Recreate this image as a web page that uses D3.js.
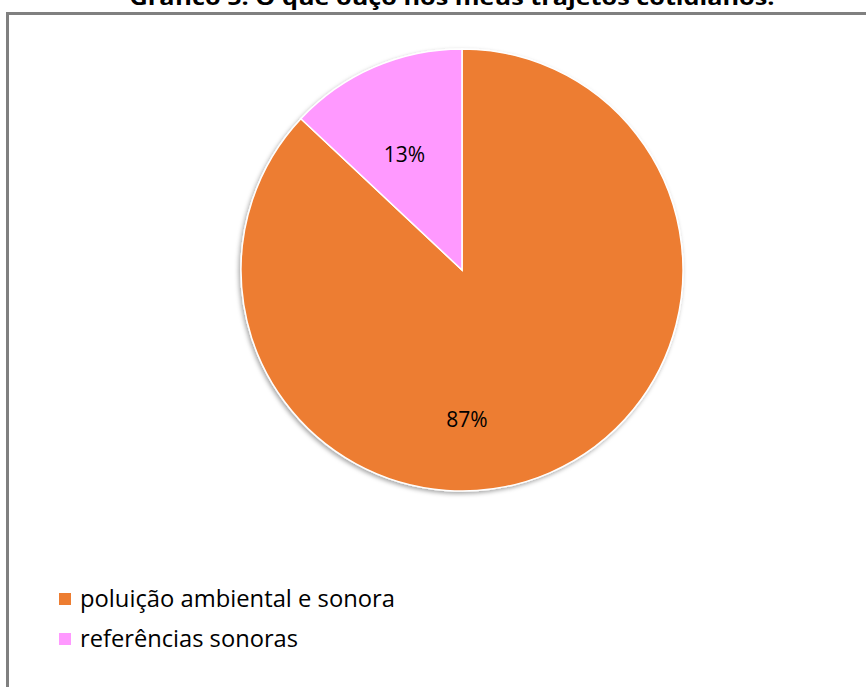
<!DOCTYPE html>
<html><head><meta charset="utf-8">
<script src="https://cdn.jsdelivr.net/npm/d3@7"></script>
<style>html,body{margin:0;padding:0;background:#fff;}svg{display:block;}</style>
</head><body>
<script>
const categories = ["poluição ambiental e sonora", "referências sonoras"];
const values = [87, 13];
const labels = ["87%", "13%"];
const colors = ["#ED7D31", "#FF99FF"];
const title = "Gráfico 5: O que ouço nos meus trajetos cotidianos.";

const W = 866, H = 687;
const svg = d3.select("body").append("svg").attr("width", W).attr("height", H);

const defs = svg.append("defs");
const f = defs.append("filter").attr("id", "sh").attr("x", "-20%").attr("y", "-20%").attr("width", "140%").attr("height", "140%");
f.append("feDropShadow").attr("dx", -1.5).attr("dy", 2).attr("stdDeviation", 2).attr("flood-color", "#000").attr("flood-opacity", 0.35);

// frame
svg.append("path").attr("d", `M7.5,${H} V13.5 H${W}`).attr("fill", "none").attr("stroke", "#808080").attr("stroke-width", 3);

// title (cut at top, as in the reference)
svg.append("text").attr("x", 452).attr("y", 5).attr("text-anchor", "middle")
  .attr("font-family", "'Open Sans', sans-serif").attr("font-weight", "bold").attr("font-size", 21)
  .attr("fill", "#000").attr("textLength", 645).attr("lengthAdjust", "spacingAndGlyphs").text(title);

const cx = 462, cy = 270, r = 221;
const pie = d3.pie().sort(null).value(d => d);
const arcs = pie(values);
const arc = d3.arc().innerRadius(0).outerRadius(r);
const g = svg.append("g").attr("transform", `translate(${cx},${cy})`);
g.append("g").attr("filter", "url(#sh)").selectAll("path").data(arcs).enter().append("path")
  .attr("d", arc).attr("fill", (d, i) => colors[i]).attr("stroke", "#fff").attr("stroke-width", 1.5);

// data labels: pink at its centroid, the large slice label placed below centre (as Excel did)
const labelArc = d3.arc().innerRadius(r * 0.565).outerRadius(r * 0.565);
g.selectAll("text.lbl").data(arcs).enter().append("text").attr("class", "lbl")
  .attr("x", (d, i) => i === 0 ? 5 : labelArc.centroid(d)[0] - 8)
  .attr("y", (d, i) => i === 0 ? 157 : labelArc.centroid(d)[1] + 7)
  .attr("text-anchor", "middle").attr("font-family", "'Open Sans', sans-serif").attr("font-size", 21)
  .attr("fill", "#000").text((d, i) => labels[i]);

// legend
const legW = [315, 218];
const leg = svg.append("g");
categories.forEach((c, i) => {
  const y = 599 + i * 40;
  leg.append("rect").attr("x", 59).attr("y", y - 6).attr("width", 12).attr("height", 12).attr("fill", colors[i]);
  leg.append("text").attr("x", 80).attr("y", y + 8).attr("font-family", "'Open Sans', sans-serif")
    .attr("font-size", 23).attr("fill", "#000")
    .attr("textLength", legW[i]).attr("lengthAdjust", "spacingAndGlyphs").text(c);
});
</script>
</body></html>
